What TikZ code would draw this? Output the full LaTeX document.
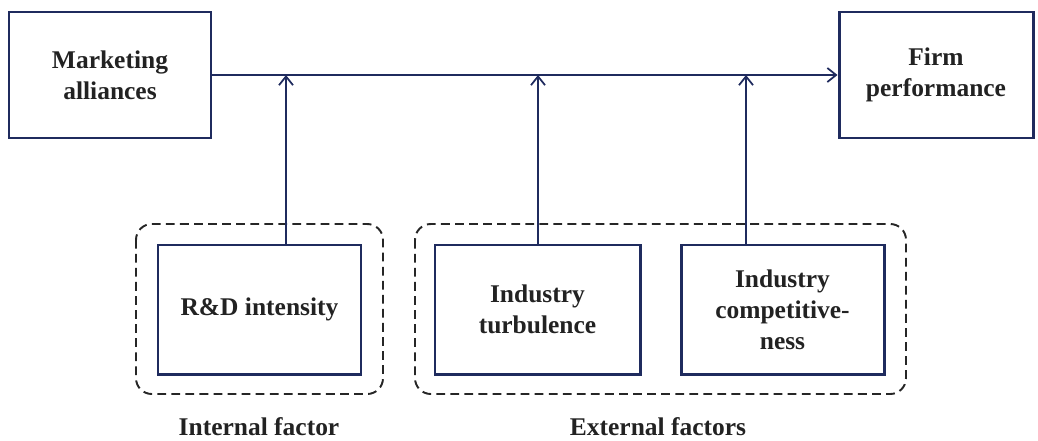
\documentclass[tikz,border=0pt]{standalone}
\usepackage{fontspec}
\setmainfont{Liberation Serif}
\usetikzlibrary{arrows.meta}
\definecolor{navy}{HTML}{1F2B5E}
\definecolor{txt}{HTML}{222222}
\begin{document}
\begin{tikzpicture}[x=0.02cm,y=-0.02cm,
  solidbox/.style={draw=navy,line width=1.7pt,inner sep=0pt,align=center,text=txt,font=\fontsize{14.5}{17.6}\selectfont\bfseries},
  groupbox/.style={draw=black!85,dashed,line width=1.1pt,rounded corners=9pt,dash pattern=on 5pt off 3pt},
  link/.style={draw=navy,line width=1.1pt},
  tip/.style={-{Straight Barb[length=5pt,width=8pt,line width=1pt]}},
  caption/.style={text=txt,anchor=base,font=\fontsize{14.5}{17.6}\selectfont\bfseries}]
\useasboundingbox (0,0) rectangle (1038,440);
% main boxes
\node[solidbox,minimum width=202*0.02cm,minimum height=126*0.02cm] (ma) at (110,75) {Marketing\\alliances};
\node[solidbox,minimum width=194*0.02cm,minimum height=126*0.02cm] (fp) at (936,75) {Firm\\performance};
% moderator boxes
\node[solidbox,minimum width=203*0.02cm,minimum height=129*0.02cm] (rd) at (259.5,309.5) {R\&D intensity};
\node[solidbox,minimum width=205*0.02cm,minimum height=129*0.02cm] (it) at (537.5,309.5) {Industry\\turbulence};
\node[solidbox,minimum width=203*0.02cm,minimum height=129*0.02cm] (ic) at (782.5,309.5) {Industry\\competitive-\\ness};
% dashed groups
\draw[groupbox] (136,224) rectangle (383,394);
\draw[groupbox] (415,224) rectangle (906,394);
\node[caption] (lin) at (259,435) {Internal factor};
\node[caption] (lex) at (658,435) {External factors};
% connectors
\draw[link,tip] (ma.east) -- (fp.west);
\coordinate (j1) at (286,75);
\coordinate (j2) at (538,75);
\coordinate (j3) at (746,75);
\draw[link,tip] (rd.north -| j1) -- (j1);
\draw[link,tip] (it.north -| j2) -- (j2);
\draw[link,tip] (ic.north -| j3) -- (j3);
\end{tikzpicture}
\end{document}
